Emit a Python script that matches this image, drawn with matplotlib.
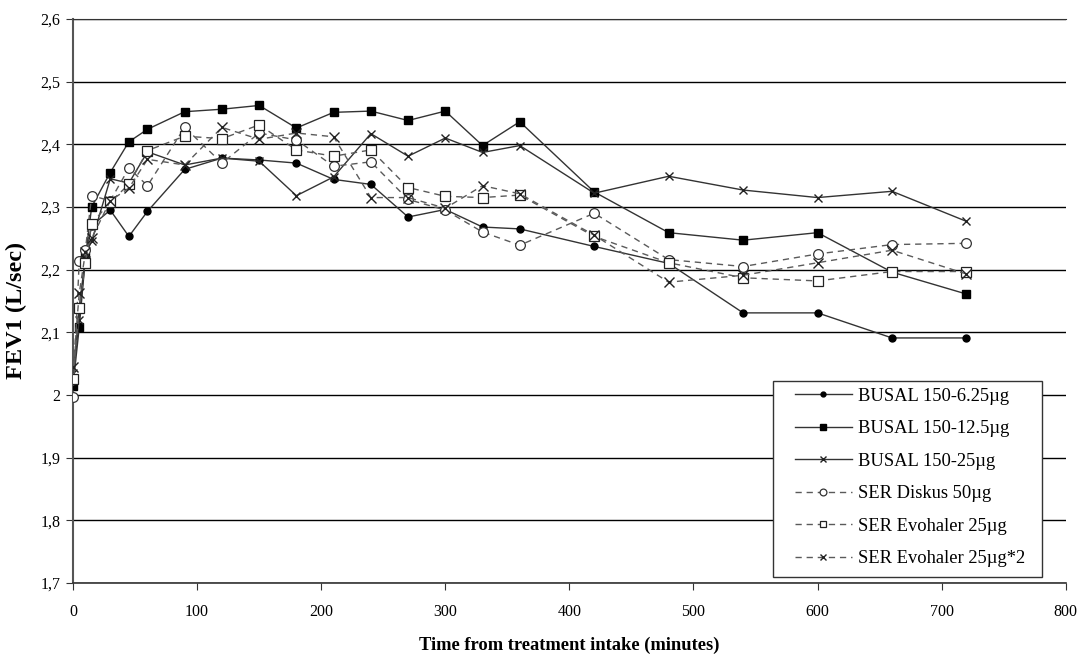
import matplotlib
matplotlib.use("Agg")
import matplotlib.pyplot as plt
from matplotlib.ticker import FuncFormatter
from matplotlib.patches import Rectangle

plt.rcParams['font.family'] = ['Liberation Serif', 'DejaVu Serif']

times = [0, 5, 10, 15, 30, 45, 60, 90, 120, 150, 180, 210, 240, 270, 300,
         330, 360, 420, 480, 540, 600, 660, 720]

busal_625 = [2.020, 2.140, 2.220, 2.270, 2.295, 2.253, 2.293, 2.360, 2.378, 2.375,
             2.370, 2.344, 2.336, 2.284, 2.296, 2.268, 2.265, 2.237, 2.210, 2.131,
             2.131, 2.091, 2.091]
busal_125 = [2.015, 2.108, 2.220, 2.300, 2.355, 2.404, 2.424, 2.452, 2.456, 2.462,
             2.426, 2.451, 2.453, 2.438, 2.453, 2.398, 2.436, 2.324, 2.259, 2.247,
             2.259, 2.196, 2.161]
busal_25 = [2.035, 2.120, 2.225, 2.245, 2.345, 2.338, 2.388, 2.367, 2.378, 2.373,
            2.318, 2.348, 2.417, 2.381, 2.410, 2.387, 2.398, 2.322, 2.349, 2.327,
            2.315, 2.325, 2.277]
ser_diskus = [1.997, 2.214, 2.232, 2.318, 2.310, 2.362, 2.334, 2.427, 2.370, 2.418,
              2.407, 2.365, 2.372, 2.312, 2.295, 2.260, 2.239, 2.290, 2.216, 2.205,
              2.225, 2.240, 2.242]
ser_evo = [2.025, 2.138, 2.210, 2.273, 2.308, 2.336, 2.390, 2.413, 2.409, 2.431,
           2.391, 2.381, 2.391, 2.331, 2.317, 2.315, 2.319, 2.253, 2.211, 2.187,
           2.182, 2.197, 2.197]
ser_evo2 = [2.045, 2.162, 2.228, 2.250, 2.310, 2.330, 2.376, 2.367, 2.427, 2.408,
            2.418, 2.412, 2.315, 2.315, 2.298, 2.334, 2.321, 2.255, 2.180, 2.191,
            2.211, 2.231, 2.193]

labels = ["BUSAL 150-6.25\u00b5g", "BUSAL 150-12.5\u00b5g", "BUSAL 150-25\u00b5g",
          "SER Diskus 50\u00b5g", "SER Evohaler 25\u00b5g", "SER Evohaler 25\u00b5g*2"]

fig = plt.figure(figsize=(10.82, 6.54), dpi=100)
ax = fig.add_axes([0.0675, 0.1086, 0.9175, 0.8624])

solid = dict(color='#333333', linewidth=1.0, linestyle='-')
dashed = dict(color='#5a5a5a', linewidth=1.0, linestyle=(0, (4.5, 3.5)))

ax.plot(times, busal_625, marker='o', markersize=5, markerfacecolor='black',
        markeredgecolor='black', label=labels[0], **solid, zorder=3)
ax.plot(times, busal_125, marker='s', markersize=5.5, markerfacecolor='black',
        markeredgecolor='black', label=labels[1], **solid, zorder=3)
ax.plot(times, busal_25, marker='x', markersize=6, markeredgecolor='#222222',
        markeredgewidth=1.0, label=labels[2], **solid, zorder=3)
ax.plot(times, ser_diskus, marker='o', markersize=7, markerfacecolor='white',
        markeredgecolor='#333333', markeredgewidth=0.9, label=labels[3], **dashed, zorder=3)
ax.plot(times, ser_evo, marker='s', markersize=7, markerfacecolor='white',
        markeredgecolor='#222222', markeredgewidth=0.9, label=labels[4], **dashed, zorder=3)
ax.plot(times, ser_evo2, marker='x', markersize=7, markeredgecolor='#222222',
        markeredgewidth=1.0, label=labels[5], **dashed, zorder=3)

ax.set_xlim(0, 800)
ax.set_ylim(1.7, 2.6)
ax.set_xticks(range(0, 801, 100))
ax.set_yticks([1.7, 1.8, 1.9, 2.0, 2.1, 2.2, 2.3, 2.4, 2.5, 2.6])
ax.yaxis.set_major_formatter(FuncFormatter(
    lambda v, p: ('%g' % round(v, 1)).replace('.', ',')))
ax.yaxis.grid(True, color='black', linewidth=1.0)
ax.set_axisbelow(True)

ax.spines['right'].set_visible(False)
ax.spines['top'].set_color('#333333')
ax.spines['left'].set_color('#555555')
ax.spines['bottom'].set_color('#333333')
ax.spines['left'].set_linewidth(1.5)
ax.spines['bottom'].set_linewidth(1.2)
ax.tick_params(axis='both', direction='out', length=5, labelsize=11.5, color='#333333')
ax.tick_params(axis='x', pad=10)
ax.tick_params(axis='y', pad=4)

ax.set_xlabel("Time from treatment intake (minutes)", fontsize=13.3, fontweight='bold', labelpad=12)
ax.set_ylabel("FEV1 (L/sec)", fontsize=17.5, fontweight='bold')
ax.yaxis.set_label_coords(-0.0463, 0.484)

leg = ax.legend(loc='upper left', bbox_to_anchor=(0.727, 0.346), fontsize=13.3,
                frameon=False, markerscale=0.7, handlelength=3.1, labelspacing=0.84,
                borderpad=0.0, handletextpad=0.3, borderaxespad=0.0)
leg.set_zorder(6)

fig.canvas.draw()
bb = leg.get_window_extent()
inv = fig.transFigure.inverted()
x0, y0 = inv.transform((bb.x0 - 22, bb.y0 - 10))
x1, y1 = inv.transform((bb.x1 + 17, bb.y1 + 7))
rect = Rectangle((x0, y0), x1 - x0, y1 - y0, transform=fig.transFigure,
                 facecolor='white', edgecolor='#333333', linewidth=1.0,
                 zorder=5, clip_on=False)
ax.add_artist(rect)
fig.savefig("out.png", dpi=100)
